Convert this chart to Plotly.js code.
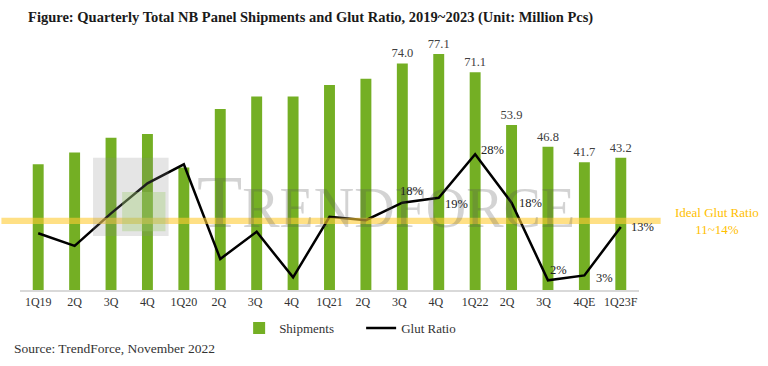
<!DOCTYPE html>
<html><head><meta charset="utf-8">
<script src="https://cdn.plot.ly/plotly-3.0.1.min.js"></script>
<style>html,body{margin:0;padding:0;background:#fff}#chart{width:768px;height:366px}</style>
</head><body><div id="chart"></div>
<script>
const quarters = ["1Q19","2Q","3Q","4Q","1Q20","2Q ","3Q ","4Q ","1Q21","2Q  ","3Q  ","4Q  ","1Q22","2Q   ","3Q   ","4QE","1Q23F"];
const shipments = [41.1,44.9,49.7,50.9,40.0,59.1,63.2,63.2,66.9,69.0,74.0,77.1,71.1,53.9,46.8,41.7,43.2];
const shipmentLabels = ["","","","","","","","","","","74.0","77.1","71.1","53.9","46.8","41.7","43.2"];
const glut = [11.7,9.1,15.8,22.0,25.9,6.4,12.0,2.6,15.1,14.4,18,19,28,18,2,3,13];
const glutLabels = ["","","","","","","","","","","18%","19%","28%","18%","2%","3%","13%"];
const glutLabelOffsets = [null,null,null,null,null,null,null,null,null,null,[9,-12],[18,6],[17,-4],[19,0],[11,-10],[20,3],[22,0]];
const idealBand = [13.6,14.9];

const serif = "Liberation Serif, DejaVu Serif, serif";
const traces = [
  {type:"bar", name:"Shipments", x:quarters, y:shipments, marker:{color:"#74AF24"},
   text:shipmentLabels, textposition:"outside", constraintext:"none", cliponaxis:false,
   textfont:{family:serif,size:12.5,color:"#404040"}, hoverinfo:"skip"},
  {type:"scatter", mode:"lines", name:"Glut Ratio", x:quarters, y:glut, yaxis:"y2",
   line:{color:"#000",width:2.5}, hoverinfo:"skip"}
];
const annotations = [];
annotations.push({xref:"paper",yref:"paper",x:0.282,y:0.36,xanchor:"left",yanchor:"middle",
  text:"T<span style='font-size:56px'>RENDFORCE</span>", showarrow:false, opacity:0.25,
  font:{family:serif,size:74,color:"#555"}});
glutLabels.forEach((t,i)=>{ if(t){ annotations.push({x:quarters[i], y:glut[i], xref:"x", yref:"y2", text:t, showarrow:false,
  xshift:glutLabelOffsets[i][0], yshift:-glutLabelOffsets[i][1], font:{family:serif,size:12.5,color:"#222"}}); }});
annotations.push({xref:"paper",yref:"paper",x:1.126,y:0.28,xanchor:"center",yanchor:"middle",
  text:"Ideal Glut Ratio<br>11~14%", showarrow:false, font:{family:serif,size:13,color:"#FFC000"}});
annotations.push({xref:"paper",yref:"paper",x:-0.013,y:-0.237,xanchor:"left",yanchor:"middle",
  text:"Source: TrendForce, November 2022", showarrow:false, font:{family:serif,size:13.5,color:"#333"}});
const layout = {
  width:768, height:366, margin:{l:20,r:129,t:45,b:76}, paper_bgcolor:"#fff", plot_bgcolor:"#fff",
  title:{text:"<b>Figure: Quarterly Total NB Panel Shipments and Glut Ratio, 2019~2023 (Unit: Million Pcs)</b>",
    x:0.013, xanchor:"left", xref:"paper", y:0.955, yanchor:"middle", font:{family:serif,size:14.5,color:"#1a1a1a"}},
  bargap:0.7, showlegend:true,
  legend:{orientation:"h", x:0.354, y:-0.155, xanchor:"left", yanchor:"middle", entrywidth:77, entrywidthmode:"pixels",
    font:{family:serif,size:13,color:"#333"}},
  xaxis:{type:"category", range:[-0.5,16.5], autorange:false, showline:true, linecolor:"#d9d9d9", linewidth:1.5, ticks:"", showgrid:false,
    tickfont:{family:serif,size:12,color:"#333"}, fixedrange:true, automargin:false},
  yaxis:{range:[0,80], visible:false, showgrid:false, zeroline:false},
  yaxis2:{range:[0,50.5], overlaying:"y", visible:false, showgrid:false, zeroline:false},
  shapes:[{type:"rect", xref:"paper", yref:"y2", x0:-0.03, x1:1.035, y0:idealBand[0], y1:idealBand[1],
    fillcolor:"#FFCC33", opacity:0.6, line:{width:0}, layer:"above"},
    {type:"rect", xref:"paper", yref:"paper", x0:0.118, x1:0.24, y0:0.22, y1:0.54, fillcolor:"#888", opacity:0.22, line:{width:0}, layer:"above"},
    {type:"rect", xref:"paper", yref:"paper", x0:0.165, x1:0.235, y0:0.24, y1:0.4, fillcolor:"#9BCB6A", opacity:0.35, line:{width:0}, layer:"above"}],
  annotations:annotations
};
Plotly.newPlot("chart", traces, layout, {displayModeBar:false, staticPlot:true});
</script></body></html>
